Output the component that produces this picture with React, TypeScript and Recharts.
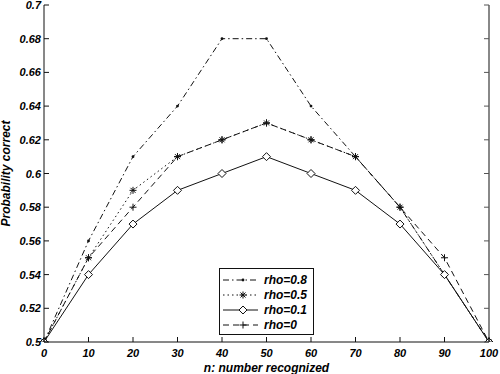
import React from 'react';
import { LineChart, Line, XAxis, YAxis } from 'recharts';

const nValues = [0, 10, 20, 30, 40, 50, 60, 70, 80, 90, 100];
const rho08 = [0.5, 0.56, 0.61, 0.64, 0.68, 0.68, 0.64, 0.61, 0.58, 0.54, 0.5];
const rho05 = [0.5, 0.55, 0.59, 0.61, 0.62, 0.63, 0.62, 0.61, 0.58, 0.54, 0.5];
const rho01 = [0.5, 0.54, 0.57, 0.59, 0.6, 0.61, 0.6, 0.59, 0.57, 0.54, 0.5];
const rho0 = [0.5, 0.55, 0.58, 0.61, 0.62, 0.63, 0.62, 0.61, 0.58, 0.55, 0.5];
const xTicks = [0, 10, 20, 30, 40, 50, 60, 70, 80, 90, 100];
const yTicks = [0.5, 0.52, 0.54, 0.56, 0.58, 0.6, 0.62, 0.64, 0.66, 0.68, 0.7];
const seriesNames = ['rho=0.8', 'rho=0.5', 'rho=0.1', 'rho=0'];

const data = nValues.map((n, i) => ({
  n,
  r08: rho08[i],
  r05: rho05[i],
  r01: rho01[i],
  r0: rho0[i],
}));

const FONT = '"Liberation Sans", Arial, Helvetica, sans-serif';
const INK = '#111';

const textStyle: React.CSSProperties = {
  fontFamily: FONT,
  fontWeight: 'bold',
  fontStyle: 'italic',
  fontSize: 11,
};

const PointMark = ({ cx, cy }: any) => <circle cx={cx} cy={cy} r={1.4} fill={INK} stroke="none" />;
const StarMark = ({ cx, cy }: any) => {
  const s = 3.5;
  const d = 2.5;
  return (
    <g stroke={INK} strokeWidth={1}>
      <line x1={cx - s} y1={cy} x2={cx + s} y2={cy} />
      <line x1={cx} y1={cy - s} x2={cx} y2={cy + s} />
      <line x1={cx - d} y1={cy - d} x2={cx + d} y2={cy + d} />
      <line x1={cx - d} y1={cy + d} x2={cx + d} y2={cy - d} />
    </g>
  );
};
const DiamondMark = ({ cx, cy }: any) => {
  const s = 4;
  return (
    <polygon
      points={`${cx},${cy - s} ${cx + s},${cy} ${cx},${cy + s} ${cx - s},${cy}`}
      fill="#fff"
      stroke={INK}
      strokeWidth={1}
    />
  );
};
const PlusMark = ({ cx, cy }: any) => {
  const s = 3.5;
  return (
    <g stroke={INK} strokeWidth={1}>
      <line x1={cx - s} y1={cy} x2={cx + s} y2={cy} />
      <line x1={cx} y1={cy - s} x2={cx} y2={cy + s} />
    </g>
  );
};

const dashes = ['6 3 1.5 3', '1.5 3', undefined, '6 4'];
const marks = [PointMark, StarMark, DiamondMark, PlusMark];

const XTickBottom = ({ x, y, payload }: any) => (
  <g>
    <line x1={x} x2={x} y1={y} y2={y - 5} stroke={INK} />
    <text x={x} y={y + 15} textAnchor="middle" style={textStyle} fill="#000">
      {payload.value}
    </text>
  </g>
);
const XTickTop = ({ x, y }: any) => (
  <line x1={x} x2={x} y1={y} y2={y + 5} stroke={INK} />
);
const YTickLeft = ({ x, y, payload }: any) => (
  <g>
    <line x1={x} x2={x + 5} y1={y} y2={y} stroke={INK} />
    <text x={x - 3} y={y + 4} textAnchor="end" style={textStyle} fill="#000">
      {payload.value}
    </text>
  </g>
);
const YTickRight = ({ x, y }: any) => (
  <line x1={x} x2={x - 5} y1={y} y2={y} stroke="#555" />
);

const LegendBox = () => (
  <div
    style={{
      position: 'absolute',
      left: 219,
      top: 268,
      width: 95,
      height: 67,
      border: `1px solid ${INK}`,
      background: '#fff',
      boxSizing: 'border-box',
    }}
  >
    <svg width={93} height={65} style={{ display: 'block' }}>
      {seriesNames.map((name, i) => {
        const y = 11 + i * 15;
        const M = marks[i];
        return (
          <g key={name}>
            <line x1={3} x2={38} y1={y} y2={y} stroke={INK} strokeDasharray={dashes[i]} />
            {M({ cx: 23, cy: y })}
            <text x={44} y={y + 4} style={{ ...textStyle, fontSize: 12 }} fill="#000">
              {name}
            </text>
          </g>
        );
      })}
    </svg>
  </div>
);

export default function App() {
  const keys = ['r08', 'r05', 'r01', 'r0'];
  return (
    <div style={{ position: 'absolute', left: 0, top: 0, width: 500, height: 374, background: '#fff' }}>
      <LineChart
        width={500}
        height={374}
        data={data}
        margin={{ top: 5, right: 0, bottom: 0, left: 0 }}
      >
        <XAxis
          xAxisId="b"
          dataKey="n"
          type="number"
          domain={[0, 100]}
          ticks={xTicks}
          height={32}
          tickSize={0}
          tickMargin={0}
          tickLine={false}
          axisLine={{ stroke: INK }}
          tick={<XTickBottom />}
          interval={0}
          label={{
            value: 'n: number recognized',
            position: 'insideBottom',
            offset: 2,
            style: { ...textStyle, fontSize: 12, fill: '#000' },
          }}
        />
        <XAxis
          xAxisId="t"
          orientation="top"
          dataKey="n"
          type="number"
          domain={[0, 100]}
          ticks={xTicks}
          height={0}
          tickSize={0}
          tickMargin={0}
          tickLine={false}
          axisLine={{ stroke: INK }}
          tick={<XTickTop />}
          interval={0}
        />
        <YAxis
          yAxisId="l"
          type="number"
          domain={[0.5, 0.7]}
          ticks={yTicks}
          width={44}
          tickSize={0}
          tickMargin={0}
          tickLine={false}
          axisLine={{ stroke: INK }}
          tick={<YTickLeft />}
          interval={0}
          allowDataOverflow
          label={{
            value: 'Probability correct',
            angle: -90,
            position: 'insideLeft',
            offset: 6,
            style: { ...textStyle, fontSize: 12, fill: '#000', textAnchor: 'middle' },
          }}
        />
        <YAxis
          yAxisId="r"
          orientation="right"
          type="number"
          domain={[0.5, 0.7]}
          ticks={yTicks}
          width={11}
          tickSize={0}
          tickMargin={0}
          tickLine={false}
          axisLine={{ stroke: '#888', strokeWidth: 2 }}
          tick={<YTickRight />}
          interval={0}
          allowDataOverflow
        />
        {keys.map((k, i) => {
          const M = marks[i];
          return (
            <Line
              key={k}
              xAxisId="b"
              yAxisId="l"
              dataKey={k}
              name={seriesNames[i]}
              type="linear"
              stroke={INK}
              strokeWidth={1}
              strokeDasharray={dashes[i]}
              dot={(p: any) => <M key={`${k}-${p.index}`} cx={p.cx} cy={p.cy} />}
              activeDot={false}
              isAnimationActive={false}
            />
          );
        })}
      </LineChart>
      <LegendBox />
    </div>
  );
}
